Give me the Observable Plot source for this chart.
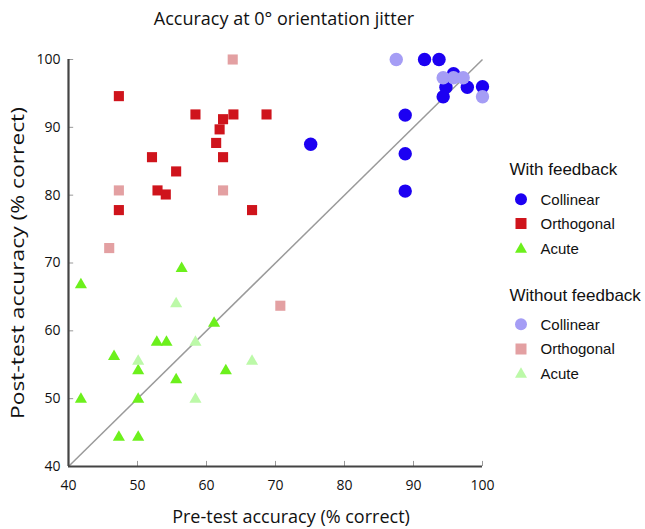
<!DOCTYPE html>
<html><head><meta charset="utf-8">
<script src="https://cdn.jsdelivr.net/npm/d3@7"></script>
<script src="https://cdn.jsdelivr.net/npm/@observablehq/plot@0.6"></script>
<style>
body{margin:0;background:#fff;}
#wrap{position:relative;width:645px;height:529px;overflow:hidden;}
#wrap svg{position:absolute;left:0;top:0;}
</style></head>
<body><div id="wrap"></div>
<script>
// With feedback
const fbCollinear = [[91.6,100],[93.7,100],[95.8,97.9],[94.7,95.9],[94.3,94.5],[97.8,95.9],[100,96.0],[88.8,91.8],[75.1,87.5],[88.8,86.1],[88.8,80.6]];
const fbOrthogonal = [[47.3,94.6],[58.4,91.9],[62.4,91.2],[63.9,91.9],[68.7,91.9],[61.9,89.7],[61.4,87.7],[52.1,85.6],[62.4,85.6],[55.6,83.5],[52.9,80.7],[54.1,80.1],[47.3,77.8],[66.6,77.8]];
const fbAcute = [[56.4,69.2],[41.8,66.8],[61.1,61.1],[52.8,58.3],[54.2,58.3],[46.6,56.2],[50.1,54.1],[62.8,54.1],[55.6,52.8],[41.8,49.9],[50.1,49.9],[47.3,44.3],[50.1,44.3]];
// Without feedback
const nfCollinear = [[87.5,100],[94.3,97.3],[95.8,97.3],[97.2,97.3],[100,94.5]];
const nfOrthogonal = [[63.8,100],[47.3,80.7],[62.4,80.7],[45.9,72.2],[70.7,63.7]];
const nfAcute = [[55.6,64.0],[58.4,58.3],[50.1,55.5],[66.6,55.5],[58.4,49.9]];

const xTicks = [40,50,60,70,80,90,100];
const yTicks = [40,50,60,70,80,90,100];
const domain = [40,100];

const titleText = "Accuracy at 0\u00B0 orientation jitter";
const xLabel = "Pre-test accuracy (% correct)";
const yLabel = "Post-test accuracy (% correct)";
const legendTitles = ["With feedback", "Without feedback"];
const legendNames = ["Collinear", "Orthogonal", "Acute"];

const colors = {
  fbCollinear:"#1c00f2", fbOrthogonal:"#cf141c", fbAcute:"#6cf01c",
  nfCollinear:"#a59df5", nfOrthogonal:"#e3a0a2", nfAcute:"#bcf9a8"
};
const series = [
  {name:"fbCollinear", data:fbCollinear, symbol:"circle", r:6.7},
  {name:"fbOrthogonal", data:fbOrthogonal, symbol:"square", r:5.7},
  {name:"fbAcute", data:fbAcute, symbol:"triangle", r:4.5},
  {name:"nfCollinear", data:nfCollinear, symbol:"circle", r:6.7},
  {name:"nfOrthogonal", data:nfOrthogonal, symbol:"square", r:5.7},
  {name:"nfAcute", data:nfAcute, symbol:"triangle", r:4.5}
];

const marks = [
  Plot.link([domain], {x1:d=>d[0], y1:d=>d[0], x2:d=>d[1], y2:d=>d[1], stroke:"#9a9a9a", strokeWidth:1.5}),
  Plot.ruleX(xTicks.slice(1), {x:d=>d, y1:40, y2:40.75, stroke:"#999", strokeWidth:1}),
  Plot.ruleY(yTicks.slice(1), {y:d=>d, x1:40, x2:40.75, stroke:"#999", strokeWidth:1}),
  Plot.ruleY([40], {x1:40, x2:100, stroke:"#444", strokeWidth:2.2}),
  Plot.ruleX([40], {y1:40, y2:100, stroke:"#444", strokeWidth:2.2}),
  Plot.axisX(xTicks, {tickSize:0, tickPadding:14, fontSize:14, label:null, fill:"#111"}),
  Plot.axisY(yTicks, {tickSize:0, tickPadding:8, fontSize:14, label:null, fill:"#111"})
];
for (const s of series) {
  marks.push(Plot.dot(s.data, {x:d=>d[0], y:d=>d[1], symbol:()=>s.symbol, r:s.r, fill:colors[s.name], stroke:"none"}));
}

const chart = Plot.plot({
  width:645, height:529,
  marginLeft:68, marginRight:163, marginTop:59, marginBottom:63,
  x:{domain, axis:null}, y:{domain, axis:null},
  symbol:{type:"identity"},
  style:{fontFamily:"'Open Sans', Lato, sans-serif", background:"transparent"},
  marks
});

const wrap = document.getElementById("wrap");
wrap.appendChild(chart);

// Text overlay: title, axis labels and legend
const svg = d3.select(wrap).append("svg").attr("width",645).attr("height",529);
const sans = "'Open Sans', Lato, sans-serif";
svg.append("text").attr("x",284).attr("y",25).attr("text-anchor","middle")
  .attr("font-family",sans).attr("font-size",18).attr("fill","#111").text(titleText);
svg.append("text").attr("x",291).attr("y",523).attr("text-anchor","middle")
  .attr("font-family",sans).attr("font-size",18).attr("fill","#111").text(xLabel);
svg.append("text").attr("transform","translate(23.5,263) rotate(-90)").attr("text-anchor","middle")
  .attr("font-family",sans).attr("font-size",18.5).attr("fill","#111")
  .attr("textLength",312).attr("lengthAdjust","spacingAndGlyphs").text(yLabel);

const legFont = "'Liberation Sans', Arial, sans-serif";
const groups = [
  {title:legendTitles[0], base:174.5, rows:[199.3,223.5,248.3], keys:["fbCollinear","fbOrthogonal","fbAcute"]},
  {title:legendTitles[1], base:301, rows:[324.3,349,373.3], keys:["nfCollinear","nfOrthogonal","nfAcute"]}
];
const symbols = ["circle","square","triangle"];
for (const g of groups){
  svg.append("text").attr("x",509.5).attr("y",g.base).attr("font-family",legFont)
    .attr("font-size",17).attr("fill","#111").text(g.title);
  g.rows.forEach((cy,i)=>{
    const c = colors[g.keys[i]];
    if (symbols[i]==="circle") svg.append("circle").attr("cx",521).attr("cy",cy).attr("r",6).attr("fill",c);
    else if (symbols[i]==="square") svg.append("rect").attr("x",515.5).attr("y",cy-5.5).attr("width",11).attr("height",11).attr("fill",c);
    else svg.append("path").attr("d",`M521,${cy-6}L527,${cy+4.5}L515,${cy+4.5}Z`).attr("fill",c);
    svg.append("text").attr("x",540.5).attr("y",cy+5.4).attr("font-family",legFont)
      .attr("font-size",15).attr("fill","#111").text(legendNames[i]);
  });
}
</script>
</body></html>
